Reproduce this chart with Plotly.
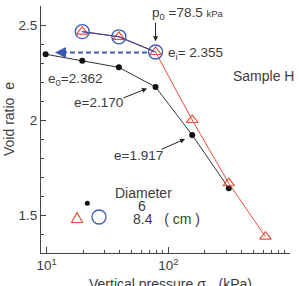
import math
import plotly.graph_objects as go

# ---- data ----
p_6cm = [9.8, 19.6, 39.2, 78.5, 157.0, 314.0]           # kPa, diameter 6 cm
e_6cm = [2.346, 2.312, 2.277, 2.174, 1.921, 1.641]
p_84cm = [19.6, 39.2, 78.5, 157.0, 314.0, 628.0]        # kPa, diameter 8.4 cm (triangles)
e_84cm = [2.465, 2.438, 2.358, 2.000, 1.667, 1.386]
p_84cm_o = [19.6, 39.2, 78.5]                           # circles
e_84cm_o = [2.465, 2.438, 2.358]
p0 = 78.5
ei = 2.355
p_dash_start = 66.7
p_arrow_end = 11.7
x_ticks = [10, 100, 1000]
x_ticklabels = ["10<sup>1</sup>", "10<sup>2</sup>", "10<sup>3</sup>"]
y_ticks = [1.5, 2.0, 2.5]
y_ticklabels = ["1.5", "2", "2.5"]

W, H = 299, 286
L, R, T, B = 41, 9, 6, 33
PW, PH = W - L - R, H - T - B

def px(x):
    return (x - L) / PW

def py(y):
    return (H - B - y) / PH

FONT = "Arial, Liberation Sans, Helvetica, sans-serif"
TXT = "#3c3c3c"
RED = "#e8513f"
BLUE = "#3b5bb5"
NAVY = "#3a3f95"

fig = go.Figure()

# black: 6 cm
fig.add_trace(go.Scatter(x=p_6cm, y=e_6cm, mode="lines+markers",
                         line=dict(color="#333333", width=1),
                         marker=dict(color="#111111", size=6)))
# red triangles 8.4 cm
fig.add_trace(go.Scatter(x=p_84cm, y=e_84cm, mode="lines+markers",
                         line=dict(color=RED, width=1),
                         marker=dict(symbol="triangle-up-open", color=RED, size=10,
                                     line=dict(width=1.2))))
# blue circles
fig.add_trace(go.Scatter(x=p_84cm_o, y=e_84cm_o, mode="lines+markers",
                         line=dict(color=NAVY, width=1.2),
                         marker=dict(symbol="circle-open", color=BLUE, size=14,
                                     line=dict(width=1.3))))
# dashed arrow line at ei
fig.add_trace(go.Scatter(x=[p_dash_start, p_arrow_end * 1.2], y=[ei, ei], mode="lines",
                         line=dict(color=BLUE, width=2, dash="5px,3px")))

ann = []
# blue arrow head
ann.append(dict(x=math.log10(p_arrow_end), y=ei, xref="x", yref="y",
                ax=12, ay=0, axref="pixel", ayref="pixel", text="",
                showarrow=True, arrowhead=2, arrowsize=1.1, arrowwidth=2,
                arrowcolor=BLUE))
# p0 arrow
ann.append(dict(x=math.log10(p0), y=ei + 0.06, xref="x", yref="y",
                ax=0, ay=-20, text="", showarrow=True, arrowhead=2,
                arrowsize=1, arrowwidth=1, arrowcolor="#222"))
# e=2.170 arrow
ann.append(dict(x=px(147), y=py(88.5), xref="paper", yref="paper",
                ax=-25, ay=10, text="", showarrow=True, arrowhead=2,
                arrowsize=1, arrowwidth=1, arrowcolor="#222"))
# e=1.917 arrow
ann.append(dict(x=px(185), y=py(139), xref="paper", yref="paper",
                ax=-25, ay=11, text="", showarrow=True, arrowhead=2,
                arrowsize=1, arrowwidth=1, arrowcolor="#222"))

def text(x, y, s, size=13.5, xanchor="left", angle=0):
    ann.append(dict(x=px(x), y=py(y), xref="paper", yref="paper", text=s,
                    showarrow=False, xanchor=xanchor, yanchor="middle",
                    textangle=angle,
                    font=dict(family=FONT, size=size, color=TXT)))

text(150, 13, "p<sub>0</sub> =78.5 <span style='font-size:9.5px'>kPa</span>")
text(166, 53, "e<sub>i</sub>= 2.355")
text(231, 76, "Sample H", size=14)
text(46, 79, "e<sub>0</sub>=2.362")
text(72, 102, "e=2.170")
text(112, 155, "e=1.917")
text(143.5, 193, "Diameter", size=14, xanchor="center")
text(142, 206, "6", size=14, xanchor="center")
text(131, 219, "8.4   ( cm )", size=14)
text(9, 119, "Void ratio  e", size=14, angle=-90, xanchor="center")
text(170, 285, "Vertical pressure σ<sub>v</sub>  (kPa)", size=14, xanchor="center")

fig.update_layout(annotations=ann)

# legend glyphs as shapes (paper coords)
shapes = []
shapes.append(dict(type="circle", xref="paper", yref="paper",
                   x0=px(84.8), x1=px(89.8), y0=py(205.8), y1=py(200.8),
                   fillcolor="#111", line=dict(color="#111", width=0)))
shapes.append(dict(type="circle", xref="paper", yref="paper",
                   x0=px(92), x1=px(106), y0=py(224), y1=py(210),
                   line=dict(color=BLUE, width=1.3)))
tx, ty = 77, 218
shapes.append(dict(type="path", xref="paper", yref="paper",
                   path=f"M {px(tx-5.5)} {py(ty+4.5)} L {px(tx+5.5)} {py(ty+4.5)} L {px(tx)} {py(ty-5.5)} Z",
                   line=dict(color=RED, width=1.2)))
fig.update_layout(shapes=shapes)

axis_common = dict(showline=True, linecolor="#444", linewidth=1, ticks="inside",
                   tickcolor="#444", showgrid=False, zeroline=False, mirror=False,
                   tickfont=dict(family=FONT, size=13.5, color=TXT))
fig.update_xaxes(type="log", range=[0.953, 3.0], tickvals=x_ticks, ticktext=x_ticklabels,
                 ticklen=6, tickwidth=1,
                 minor=dict(tickvals=[k * 10 ** d for d in (1, 2) for k in range(2, 10)],
                            ticks="inside", ticklen=3, tickcolor="#444"),
                 **axis_common)
fig.update_yaxes(range=[1.3, 2.6], tickvals=y_ticks, ticktext=y_ticklabels,
                 ticklen=5, tickwidth=1,
                 minor=dict(dtick=0.1, tick0=1.3, ticks="inside", ticklen=3,
                            tickcolor="#444"),
                 **axis_common)

fig.update_layout(width=W, height=H, margin=dict(l=L, r=R, t=T, b=B),
                  plot_bgcolor="white", paper_bgcolor="white", showlegend=False,
                  font=dict(family=FONT, color=TXT))

fig.write_html("out.html")
